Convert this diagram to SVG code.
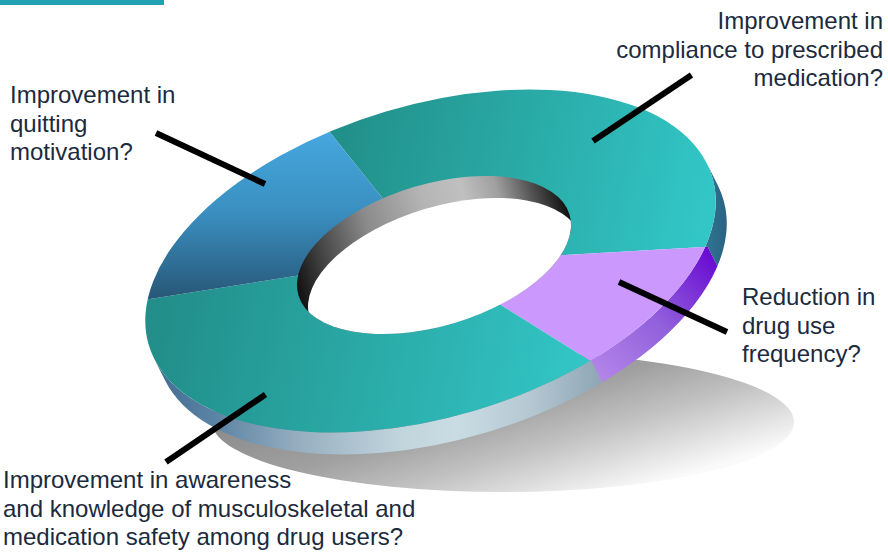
<svg xmlns="http://www.w3.org/2000/svg" width="888" height="556" viewBox="0 0 888 556">
<style>
.lbl{font-family:"Liberation Sans",Arial,sans-serif;font-size:24px;fill:#1c2a3e}
.conn{stroke:#000;stroke-width:6;fill:none;stroke-linecap:butt}
</style>
<defs>
<linearGradient id="gShadow" gradientUnits="userSpaceOnUse" x1="400" y1="360" x2="455" y2="543.5">
<stop offset="0" stop-color="#888"/><stop offset="0.4" stop-color="#a0a0a0"/><stop offset="0.65" stop-color="#c2c2c2"/><stop offset="0.85" stop-color="#e2e2e2"/><stop offset="1" stop-color="#fafafa"/>
</linearGradient>
<linearGradient id="gTopA" gradientUnits="userSpaceOnUse" x1="340" y1="150" x2="700" y2="230">
<stop offset="0" stop-color="#22908a"/><stop offset="1" stop-color="#32c6c6"/>
</linearGradient>
<linearGradient id="gTopC" gradientUnits="userSpaceOnUse" x1="170" y1="300" x2="590" y2="390">
<stop offset="0" stop-color="#228f8a"/><stop offset="1" stop-color="#33c7c7"/>
</linearGradient>
<linearGradient id="gTopD" gradientUnits="userSpaceOnUse" x1="0" y1="125" x2="0" y2="300">
<stop offset="0" stop-color="#47a9e1"/><stop offset="0.5" stop-color="#3a8fc0"/><stop offset="1" stop-color="#275676"/>
</linearGradient>
<linearGradient id="gSideA" gradientUnits="userSpaceOnUse" x1="700" y1="0" x2="726" y2="0">
<stop offset="0" stop-color="#33799a"/><stop offset="1" stop-color="#2a6383"/>
</linearGradient>
<linearGradient id="gSideB" gradientUnits="userSpaceOnUse" x1="600" y1="380" x2="715" y2="262">
<stop offset="0" stop-color="#b485e8"/><stop offset="0.5" stop-color="#9160dc"/><stop offset="1" stop-color="#6a0ed2"/>
</linearGradient>
<linearGradient id="gSideC" gradientUnits="userSpaceOnUse" x1="150" y1="0" x2="600" y2="0">
<stop offset="0" stop-color="#3f6b90"/><stop offset="0.14" stop-color="#5a82a3"/><stop offset="0.33" stop-color="#96aec0"/><stop offset="0.55" stop-color="#c0d4dc"/><stop offset="0.68" stop-color="#cadce3"/><stop offset="0.84" stop-color="#b6c9d3"/><stop offset="1" stop-color="#8ea6b6"/>
</linearGradient>
<linearGradient id="gWall" gradientUnits="userSpaceOnUse" x1="293" y1="0" x2="575" y2="0">
<stop offset="0" stop-color="#111"/><stop offset="0.12" stop-color="#444"/><stop offset="0.3" stop-color="#8a8a8a"/><stop offset="0.52" stop-color="#b5b5b5"/><stop offset="0.66" stop-color="#c0c0c0"/><stop offset="0.78" stop-color="#a0a0a0"/><stop offset="0.9" stop-color="#505050"/><stop offset="1" stop-color="#111"/>
</linearGradient>
<clipPath id="topClip"><ellipse cx="430.5" cy="261" rx="294" ry="156" transform="rotate(-16.6 430.5 261)"/></clipPath>
<clipPath id="bandClip"><path d="M706.9 163.5A294 156 -16.6 0 1 475.1 410.5A294 156 -16.6 0 1 154.1 358.5L165.1 380.5A294 156 -16.6 0 0 486.1 432.5A294 156 -16.6 0 0 717.9 185.5Z"/></clipPath>
<clipPath id="holeClip"><ellipse cx="434" cy="255" rx="141.4" ry="70.9" transform="rotate(-16.6 434 255)"/></clipPath>
</defs>

<rect x="0" y="0" width="164" height="5" fill="#22a2b0"/>
<ellipse id="shadow" cx="503" cy="422" rx="291" ry="70" fill="url(#gShadow)"/>

<g id="seg-compliance">
<polygon clip-path="url(#bandClip)" fill="url(#gSideA)" points="434,255 381.7,197.3 330.7,133.3 228.7,5.3 900,-100 762.7,356.7 707.7,246.7 565,255"/>
<polygon clip-path="url(#topClip)" fill="url(#gTopA)" points="434,255 381.7,197.3 330.7,133.3 228.7,5.3 900,-100 762.7,356.7 707.7,246.7 565,255"/>
<text class="lbl" text-anchor="end"><tspan x="883" y="29">Improvement in</tspan><tspan x="883" y="57.5">compliance to prescribed</tspan><tspan x="883" y="86">medication?</tspan></text>
</g>

<g id="seg-reduction">
<polygon clip-path="url(#bandClip)" fill="url(#gSideB)" points="434,255 565,255 707.7,246.7 762.7,356.7 900,600 646.7,471.7 591.7,361.7 500.7,305"/>
<polygon clip-path="url(#topClip)" fill="#cb99fd" points="434,255 565,255 707.7,246.7 762.7,356.7 900,600 646.7,471.7 591.7,361.7 500.7,305"/>
<text class="lbl"><tspan x="742" y="305">Reduction in</tspan><tspan x="742" y="333.5">drug use</tspan><tspan x="742" y="362">frequency?</tspan></text>
</g>

<g id="seg-awareness">
<polygon clip-path="url(#bandClip)" fill="url(#gSideC)" points="434,255 500.7,305 591.7,361.7 646.7,471.7 600,700 -100,600 -148.5,346.5 148.3,299.3 296.7,275.7"/>
<polygon clip-path="url(#topClip)" fill="url(#gTopC)" points="434,255 500.7,305 591.7,361.7 646.7,471.7 600,700 -100,600 -148.5,346.5 148.3,299.3 296.7,275.7"/>
<text class="lbl"><tspan x="3" y="488">Improvement in awareness</tspan><tspan x="3" y="516.5">and knowledge of musculoskeletal and</tspan><tspan x="3" y="545">medication safety among drug users?</tspan></text>
</g>

<g id="seg-quitting">
<polygon clip-path="url(#topClip)" fill="url(#gTopD)" points="434,255 296.7,275.7 148.3,299.3 -148.5,346.5 -100,-100 228.7,5.3 330.7,133.3 381.7,197.3"/>
<text class="lbl"><tspan x="10" y="103">Improvement in</tspan><tspan x="10" y="131.5">quitting</tspan><tspan x="10" y="160">motivation?</tspan></text>
</g>

<g id="hole">
<ellipse cx="434" cy="255" rx="141.4" ry="70.9" transform="rotate(-16.6 434 255)" fill="url(#gWall)"/>
<g clip-path="url(#holeClip)">
<ellipse cx="445" cy="277" rx="141.4" ry="70.9" transform="rotate(-16.6 445 277)" fill="#fff"/>
</g>
</g>

<g id="connectors">
<line class="conn" x1="156" y1="133" x2="265" y2="184"/>
<line class="conn" x1="593" y1="141" x2="691.5" y2="75"/>
<line class="conn" x1="619" y1="282" x2="727" y2="332"/>
<line class="conn" x1="265.5" y1="394.5" x2="166" y2="462"/>
</g>
</svg>
